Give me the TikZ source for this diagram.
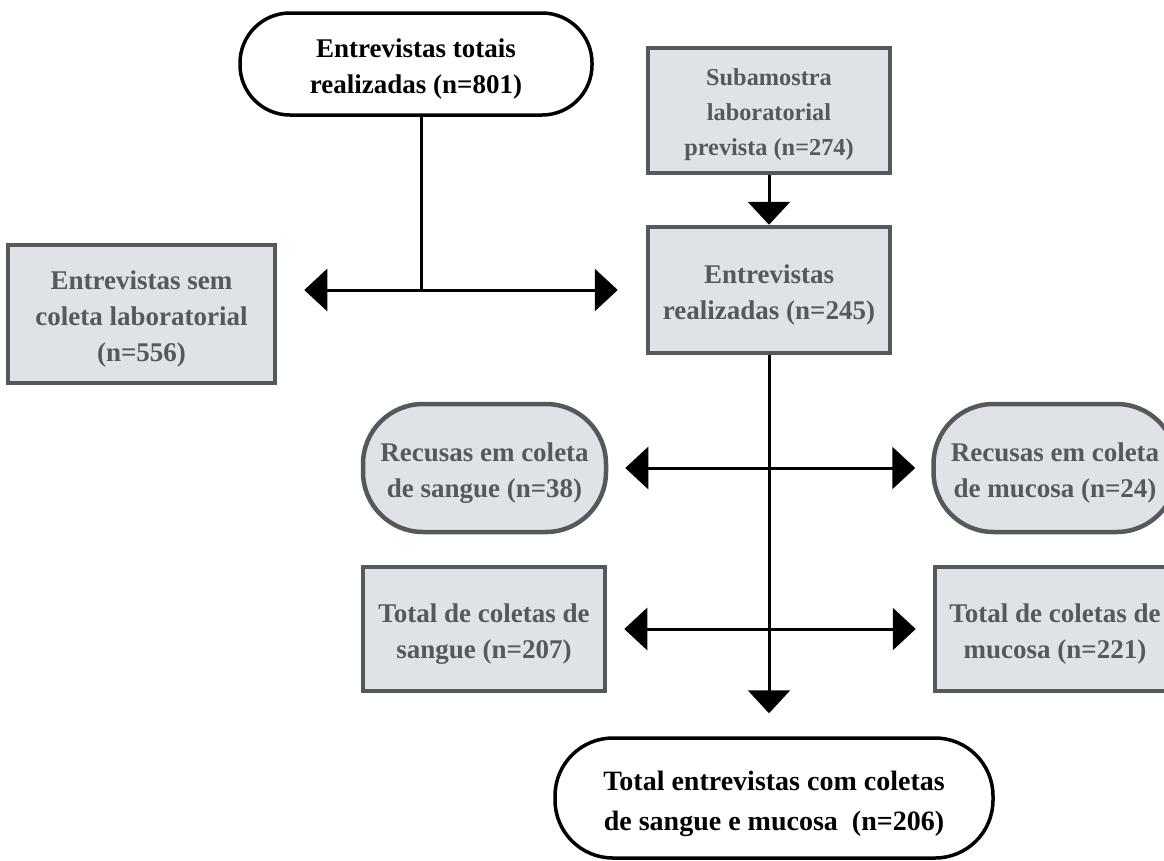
\documentclass[tikz,border=0pt]{standalone}
\usepackage{fontspec}
\setmainfont{Liberation Serif}
\usetikzlibrary{arrows.meta}
\definecolor{boxfill}{HTML}{DFE2E6}
\definecolor{boxline}{HTML}{55585C}
\definecolor{boxtext}{HTML}{55595E}
\newcommand{\mystrut}[1]{\rule{0pt}{#1}}
\tikzset{
  base/.style={inner sep=0pt, align=center, font=\bfseries\fontsize{27}{36}\selectfont},
  term/.style={base, draw=black, fill=white, line width=3.5pt, text=black},
  greybox/.style={base, draw=boxline, fill=boxfill, line width=4.5pt, text=boxtext},
  greyround/.style={greybox, rounded corners=60pt},
  conn/.style={draw=black, line width=3pt},
  arr/.style={conn, -{Triangle[width=42pt,length=23pt]}},
}
\begin{document}
\begin{tikzpicture}[x=1pt,y=-1pt]
\useasboundingbox (0,0) rectangle (1164,860);
\clip (0,0) rectangle (1164,860);
\fill[white] (0,0) rectangle (1164,860);

\node[term, minimum width=352pt, minimum height=102pt, rounded corners=50pt] (top) at (416,64) {\mystrut{28pt}Entrevistas totais\\realizadas (n=801)};
\node[greybox, minimum width=242pt, minimum height=125pt, font=\bfseries\fontsize{24.3}{35}\selectfont] (sub) at (769,110.5) {\mystrut{24.5pt}Subamostra\\laboratorial\\prevista (n=274)};
\node[greybox, minimum width=242pt, minimum height=126pt] (real) at (769,290) {\mystrut{28pt}Entrevistas\\realizadas (n=245)};
\node[greybox, minimum width=267pt, minimum height=138pt] (sem) at (141.5,314) {\mystrut{28pt}Entrevistas sem\\coleta laboratorial\\(n=556)};
\node[greyround, minimum width=243pt, minimum height=128pt] (rs) at (484.5,468) {\mystrut{28pt}Recusas em coleta\\de sangue (n=38)};
\node[greyround, minimum width=243pt, minimum height=128pt] (rm) at (1055,468) {\mystrut{28pt}Recusas em coleta\\de mucosa (n=24)};
\node[greybox, minimum width=242pt, minimum height=124pt] (ts) at (484,629) {\mystrut{28pt}Total de coletas de\\sangue (n=207)};
\node[greybox, minimum width=240pt, minimum height=124pt] (tm) at (1055,629) {\mystrut{28pt}Total de coletas de\\mucosa (n=221)};
\node[term, minimum width=438pt, minimum height=120pt, rounded corners=58pt, font=\bfseries\fontsize{28}{40}\selectfont] (bot) at (774,798) {\mystrut{31pt}Total entrevistas com coletas\\de sangue e mucosa~~(n=206)};

\coordinate (j1) at (421,290);
\draw[conn] (top.south -| j1) -- (j1);
\draw[arr, shorten >=27pt] (j1) -- (sem.east |- j1);
\draw[arr, shorten >=28pt] (j1) -- (real.west |- j1);
\draw[arr] (sub.south) -- (real.north);
\draw[arr, shorten >=23pt] (real.south) -- (bot.north -| real.south);
\coordinate (j2) at (real.south |- rs.east);
\coordinate (j3) at (real.south |- ts.east);
\draw[arr, shorten >=17pt] (j2) -- (rs.east);
\draw[arr, shorten >=16pt] (j2) -- (rm.west);
\draw[arr, shorten >=17pt] (j3) -- (ts.east);
\draw[arr, shorten >=17pt] (j3) -- (tm.west);
\end{tikzpicture}
\end{document}
